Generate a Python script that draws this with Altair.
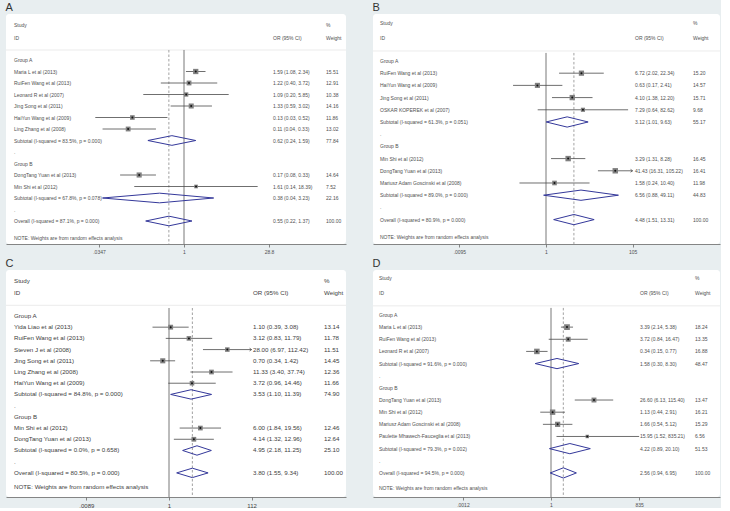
import math
import altair as alt
import pandas as pd

# ---------------- Panel A ----------------
A_study = ["Maria L et al (2013)", "RuiFen Wang  et al (2013)", "Leonard R et al (2007)",
           "Jing Song et al (2011)", "HaiYun Wang et al (2009)", "Ling Zhang et al (2008)",
           "DongTang Yuan et al (2013)", "Min Shi et al (2012)"]
A_group = ["A", "A", "A", "A", "A", "A", "B", "B"]
A_or = [1.59, 1.22, 1.09, 1.33, 0.13, 0.11, 0.17, 1.61]
A_lo = [1.08, 0.40, 0.20, 0.59, 0.03, 0.04, 0.08, 0.14]
A_hi = [2.34, 3.72, 5.85, 3.02, 0.52, 0.33, 0.33, 18.39]
A_weight = [15.51, 12.91, 10.38, 14.16, 11.86, 13.02, 14.64, 7.52]
A_sub_i2 = ["83.5%", "67.8%"]
A_sub_p = ["0.000", "0.078"]
A_sub_or = [0.62, 0.38]
A_sub_lo = [0.24, 0.04]
A_sub_hi = [1.59, 3.23]
A_sub_weight = [77.84, 22.16]
A_all = {"i2": "87.1%", "p": "0.000", "or": 0.55, "lo": 0.22, "hi": 1.37}
A_ticks = [0.0347, 1, 28.8]
A_tick_labels = [".0347", "1", "28.8"]

# ---------------- Panel B ----------------
B_study = ["RuiFen Wang  et al (2013)", "HaiYun Wang et al (2009)", "Jing Song et al (2011)",
           "OSKAR KOPEREK et al (2007)", "Min Shi et al (2012)", "DongTang Yuan et al (2013)",
           "Mariusz Adam Goscinski et al (2008)"]
B_group = ["A", "A", "A", "A", "B", "B", "B"]
B_or = [6.72, 0.63, 4.10, 7.29, 3.29, 41.43, 1.58]
B_lo = [2.02, 0.17, 1.38, 0.64, 1.31, 16.31, 0.24]
B_hi = [22.34, 2.41, 12.20, 82.62, 8.28, 105.22, 10.40]
B_weight = [15.20, 14.57, 15.71, 9.68, 16.45, 16.41, 11.98]
B_sub_i2 = ["61.3%", "89.0%"]
B_sub_p = ["0.051", "0.000"]
B_sub_or = [3.12, 6.56]
B_sub_lo = [1.01, 0.88]
B_sub_hi = [9.63, 49.11]
B_sub_weight = [55.17, 44.83]
B_all = {"i2": "80.9%", "p": "0.000", "or": 4.48, "lo": 1.51, "hi": 13.31}
B_ticks = [0.0095, 1, 105]
B_tick_labels = [".0095", "1", "105"]

# ---------------- Panel C ----------------
C_study = ["Yida Liao et al (2013)", "RuiFen Wang  et al (2013)", "Steven J et al (2008)",
           "Jing Song et al (2011)", "Ling Zhang et al (2008)", "HaiYun Wang et al (2009)",
           "Min Shi et al (2012)", "DongTang Yuan et al (2013)"]
C_group = ["A", "A", "A", "A", "A", "A", "B", "B"]
C_or = [1.10, 3.12, 28.00, 0.70, 11.33, 3.72, 6.00, 4.14]
C_lo = [0.39, 0.83, 6.97, 0.34, 3.40, 0.96, 1.84, 1.32]
C_hi = [3.08, 11.79, 112.42, 1.42, 37.74, 14.46, 19.56, 12.96]
C_weight = [13.14, 11.78, 11.51, 14.45, 12.36, 11.66, 12.46, 12.64]
C_sub_i2 = ["84.8%", "0.0%"]
C_sub_p = ["0.000", "0.658"]
C_sub_or = [3.53, 4.95]
C_sub_lo = [1.10, 2.18]
C_sub_hi = [11.39, 11.25]
C_sub_weight = [74.90, 25.10]
C_all = {"i2": "80.5%", "p": "0.000", "or": 3.80, "lo": 1.55, "hi": 9.34}
C_ticks = [0.0089, 1, 112]
C_tick_labels = [".0089", "1", "112"]

# ---------------- Panel D ----------------
D_study = ["Maria L et al (2013)", "RuiFen Wang  et al (2013)", "Leonard R et al (2007)",
           "DongTang Yuan et al (2013)", "Min Shi et al (2012)",
           "Mariusz Adam Goscinski et al (2008)", "Paulette Mhawech-Fauceglia et al (2013)"]
D_group = ["A", "A", "A", "B", "B", "B", "B"]
D_or = [3.39, 3.72, 0.34, 26.60, 1.13, 1.66, 15.95]
D_lo = [2.14, 0.84, 0.15, 6.13, 0.44, 0.54, 1.52]
D_hi = [5.38, 16.47, 0.77, 115.40, 2.91, 5.12, 835.21]
D_weight = [18.24, 13.35, 16.88, 13.47, 16.21, 15.29, 6.56]
D_sub_i2 = ["91.6%", "79.3%"]
D_sub_p = ["0.000", "0.002"]
D_sub_or = [1.58, 4.22]
D_sub_lo = [0.30, 0.89]
D_sub_hi = [8.30, 20.10]
D_sub_weight = [48.47, 51.53]
D_all = {"i2": "94.5%", "p": "0.000", "or": 2.56, "lo": 0.94, "hi": 6.95}
D_ticks = [0.0012, 1, 835]
D_tick_labels = [".0012", "1", "835"]

NOTE = "NOTE: Weights are from random effects analysis"

FONT = "Liberation Sans"
DIAMOND = "#34389a"
LINE = "#4a4a4a"


def ci_text(e, l, h):
    return f"{e:.2f} ({l:.2f}, {h:.2f})"


def build(study, group, est, lo, hi, w, s_i2, s_p, s_or, s_lo, s_hi, s_w, allr):
    text_rows, studies, diamonds = [], [], []
    r = 0
    for gi, g in enumerate(["A", "B"]):
        text_rows.append({"row": r, "label": f"Group {g}", "ortext": "", "wtext": ""})
        r += 1
        for i in range(len(study)):
            if group[i] != g:
                continue
            text_rows.append({"row": r, "label": study[i],
                              "ortext": ci_text(est[i], lo[i], hi[i]), "wtext": f"{w[i]:.2f}"})
            studies.append({"row": r, "est": est[i], "lo": lo[i], "hi": hi[i], "weight": w[i]})
            r += 1
        text_rows.append({"row": r, "label": f"Subtotal  (I-squared = {s_i2[gi]}, p = {s_p[gi]})",
                          "ortext": ci_text(s_or[gi], s_lo[gi], s_hi[gi]), "wtext": f"{s_w[gi]:.2f}"})
        diamonds.append({"id": f"sub{g}", "row": r, "est": s_or[gi], "lo": s_lo[gi], "hi": s_hi[gi]})
        r += 1
        text_rows.append({"row": r, "label": ".", "ortext": "", "wtext": ""})
        r += 1
    text_rows.append({"row": r, "label": f"Overall  (I-squared = {allr['i2']}, p = {allr['p']})",
                      "ortext": ci_text(allr["or"], allr["lo"], allr["hi"]), "wtext": "100.00"})
    diamonds.append({"id": "overall", "row": r, "est": allr["or"], "lo": allr["lo"], "hi": allr["hi"]})
    return text_rows, studies, diamonds


def panel(letter, data, ticks, tick_labels, lay):
    text_rows, studies, diamonds = data
    W, H = lay["W"], lay["H"]
    fs = lay["font"]
    tcol = lay["color"]
    xdom = [math.exp(-lay["one_px"] / lay["ppl"]), math.exp((W - lay["one_px"]) / lay["ppl"])]
    xs = alt.Scale(type="log", domain=xdom, nice=False)
    ys = alt.Scale(domain=[lay["ytop"], lay["ybot"]], reverse=True, nice=False, zero=False)

    cuts = [math.sqrt(ticks[0] * ticks[1]), math.sqrt(ticks[1] * ticks[2])]
    label_expr = (f"datum.value < {cuts[0]} ? '{tick_labels[0]}' : "
                  f"datum.value < {cuts[1]} ? '{tick_labels[1]}' : '{tick_labels[2]}'")
    xaxis = alt.Axis(values=ticks, labelExpr=label_expr, title=None, grid=False,
                     domainColor="#6a6a6a", domainWidth=0.8, tickColor="#6a6a6a", tickWidth=0.8,
                     tickSize=3, labelFontSize=lay["tick_font"], labelFont=FONT, labelColor=tcol,
                     labelPadding=2, labelFlush=False, labelOverlap=False)

    def X(f):
        return alt.X(f, type="quantitative", scale=xs, axis=xaxis)

    def Y(f):
        return alt.Y(f, type="quantitative", scale=ys, axis=None)

    clip = lay["clip"]
    sdf = pd.DataFrame(studies)
    sdf["hi_draw"] = [min(h, clip) if clip else h for h in sdf["hi"]]
    sdf["arrow"] = [bool(clip) and h > clip for h in sdf["hi"]]

    # diamond outlines for subtotals and overall
    hh = 0.42
    verts = []
    for d in diamonds:
        pts = [(d["lo"], d["row"]), (d["est"], d["row"] - hh), (d["hi"], d["row"]),
               (d["est"], d["row"] + hh), (d["lo"], d["row"])]
        for k, (xv, yv) in enumerate(pts):
            verts.append({"id": d["id"], "k": k, "xv": xv, "yv": yv})
    vdf = pd.DataFrame(verts)

    overall_est = diamonds[-1]["est"]
    ref = pd.DataFrame({"x": [1.0, overall_est], "y1": [lay["line_top"]] * 2,
                        "y2": [lay["ybot"]] * 2, "kind": ["null", "overall"]})

    sep = pd.DataFrame({"y": [lay["sep_row"]]})

    left_col = pd.DataFrame(
        [{"row": lay["study_row"], "t": "Study"}, {"row": lay["id_row"], "t": "ID"}]
        + [{"row": r["row"], "t": r["label"]} for r in text_rows]
        + [{"row": lay["note_row"], "t": NOTE}])
    or_col = pd.DataFrame([{"row": lay["id_row"], "t": "OR (95% CI)"}]
                          + [{"row": r["row"], "t": r["ortext"]} for r in text_rows if r["ortext"]])
    w_col = pd.DataFrame([{"row": lay["study_row"], "t": "%"}, {"row": lay["id_row"], "t": "Weight"}]
                         + [{"row": r["row"], "t": r["wtext"]} for r in text_rows if r["wtext"]])

    def text_layer(df, xpx):
        return alt.Chart(df).mark_text(align="left", baseline="middle", font=FONT,
                                       fontSize=fs, color=tcol).encode(
            x=alt.value(xpx), y=Y("row"), text="t:N")

    sep_layer = alt.Chart(sep).mark_rule(color="#e6e6e6", strokeWidth=0.8).encode(
        x=alt.value(0), x2=alt.value(W), y=Y("y"))
    null_line = alt.Chart(ref[ref.kind == "null"]).mark_rule(color="#555555", strokeWidth=0.8).encode(
        x=X("x"), y=Y("y1"), y2="y2:Q")
    overall_line = alt.Chart(ref[ref.kind == "overall"]).mark_rule(
        color="#8a8a8a", strokeWidth=0.8, strokeDash=[2.5, 2]).encode(
        x=X("x"), y=Y("y1"), y2="y2:Q")
    ci = alt.Chart(sdf).mark_rule(color=LINE, strokeWidth=0.8).encode(
        x=X("lo"), x2="hi_draw:Q", y=Y("row"))
    arrows = alt.Chart(sdf[sdf.arrow]).mark_point(
        shape="M -1 -0.7 L 0 0 L -1 0.7", filled=False, color=LINE, strokeWidth=0.8, size=16,
        opacity=1).encode(x=X("hi_draw"), y=Y("row"))
    boxes = alt.Chart(sdf).mark_square(color="#808080", opacity=1).encode(
        x=X("est"), y=Y("row"),
        size=alt.Size("weight:Q", scale=alt.Scale(domain=[0, 20], range=[0, lay["box"]]), legend=None))
    dots = alt.Chart(sdf).mark_circle(color="#111111", size=4, opacity=1).encode(x=X("est"), y=Y("row"))
    dia = alt.Chart(vdf).mark_line(color=DIAMOND, strokeWidth=1).encode(
        x=X("xv"), y=Y("yv"), detail="id:N", order="k:Q")

    return alt.layer(
        sep_layer, null_line, overall_line, ci, arrows, boxes, dots, dia,
        text_layer(left_col, lay["x_label"]), text_layer(or_col, lay["x_or"]),
        text_layer(w_col, lay["x_w"]),
    ).properties(width=W, height=H, title=alt.TitleParams(letter, anchor="start"))


lay_A = dict(W=340, H=230, ytop=-4.0, ybot=16.0, study_row=-3.04, id_row=-1.91, sep_row=-0.87,
             line_top=-0.87, note_row=15.5, one_px=178, ppl=25.3, x_label=8, x_or=267, x_w=320,
             font=5, tick_font=5, color="#505050", clip=None, box=36)
lay_B = dict(W=347, H=230, ytop=-3.85, ybot=15.0, study_row=-3.11, id_row=-1.89, sep_row=-0.82,
             line_top=-0.66, note_row=14.43, one_px=173, ppl=18.6, x_label=7, x_or=262, x_w=320,
             font=5, tick_font=5, color="#505050", clip=105, box=36)
lay_C = dict(W=340, H=227, ytop=-4.1, ybot=16.15, study_row=-3.12, id_row=-2.05, sep_row=-0.95,
             line_top=-0.71, note_row=15.3, one_px=163, ppl=17.5, x_label=8, x_or=247, x_w=318,
             font=6.2, tick_font=6, color="#404040", clip=112, box=28)
lay_D = dict(W=347, H=227, ytop=-3.7, ybot=14.98, study_row=-3.05, id_row=-1.81, sep_row=-0.75,
             line_top=-0.58, note_row=14.24, one_px=178, ppl=13.1, x_label=6, x_or=267, x_w=322,
             font=5, tick_font=5, color="#505050", clip=None, box=36)

pA = panel("A", build(A_study, A_group, A_or, A_lo, A_hi, A_weight, A_sub_i2, A_sub_p, A_sub_or,
                      A_sub_lo, A_sub_hi, A_sub_weight, A_all), A_ticks, A_tick_labels, lay_A)
pB = panel("B", build(B_study, B_group, B_or, B_lo, B_hi, B_weight, B_sub_i2, B_sub_p, B_sub_or,
                      B_sub_lo, B_sub_hi, B_sub_weight, B_all), B_ticks, B_tick_labels, lay_B)
pC = panel("C", build(C_study, C_group, C_or, C_lo, C_hi, C_weight, C_sub_i2, C_sub_p, C_sub_or,
                      C_sub_lo, C_sub_hi, C_sub_weight, C_all), C_ticks, C_tick_labels, lay_C)
pD = panel("D", build(D_study, D_group, D_or, D_lo, D_hi, D_weight, D_sub_i2, D_sub_p, D_sub_or,
                      D_sub_lo, D_sub_hi, D_sub_weight, D_all), D_ticks, D_tick_labels, lay_D)

chart = alt.vconcat(
    alt.hconcat(pA, pB, spacing=25),
    alt.hconcat(pC, pD, spacing=25),
    spacing=4,
    background="#e8eef0",
    padding={"left": 5, "top": 2, "right": 0, "bottom": 0},
).configure_view(fill="white", stroke=None, cornerRadius=3).configure_title(
    font=FONT, fontSize=11, fontWeight="normal", color="#333333", offset=1)

chart.save("out.html", embed_options={"renderer": "svg", "actions": False})
